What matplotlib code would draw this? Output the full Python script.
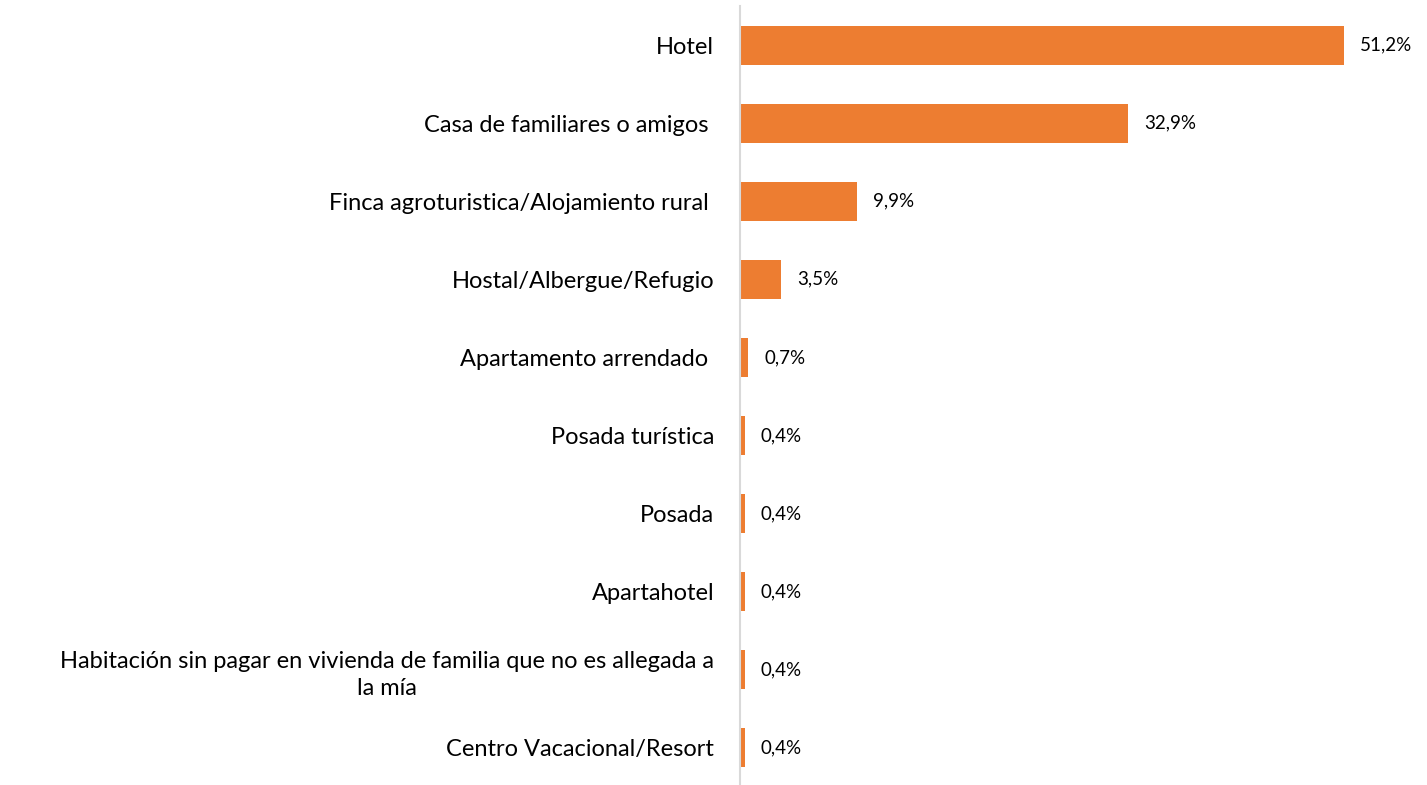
import matplotlib
matplotlib.use("Agg")
import matplotlib.pyplot as plt

categorias = [
    "Hotel",
    "Casa de familiares o amigos ",
    "Finca agroturistica/Alojamiento rural ",
    "Hostal/Albergue/Refugio",
    "Apartamento arrendado ",
    "Posada turística",
    "Posada",
    "Apartahotel",
    "Habitación sin pagar en vivienda de familia que no es allegada a\nla mía",
    "Centro Vacacional/Resort",
]
valores = [51.2, 32.9, 9.9, 3.5, 0.7, 0.4, 0.4, 0.4, 0.4, 0.4]
etiquetas = ["51,2%", "32,9%", "9,9%", "3,5%", "0,7%", "0,4%", "0,4%", "0,4%", "0,4%", "0,4%"]

plt.rcParams['font.family'] = ['Lato', 'DejaVu Sans']

W, H = 1427, 785
fig = plt.figure(figsize=(W / 100, H / 100), dpi=100)
# axes spans 6px from the top down to just below the bottom edge
ax = fig.add_axes([740 / W, -2 / H, (1400 - 740) / W, 781 / H])

pos = list(range(len(categorias)))
ax.barh(pos, valores, height=0.5, color="#ED7D31")
ax.set_xlim(0, (1400 - 740) / 11.8)
ax.set_ylim(len(categorias) - 0.5, -0.5)

for y, v, t in zip(pos, valores, etiquetas):
    ax.annotate(t, (v, y), xytext=(16, 0), textcoords="offset pixels",
                ha="left", va="center", fontsize=13.5, color="#000000")

ax.set_yticks(pos)
ax.set_yticklabels(categorias, fontsize=17, multialignment="center", linespacing=1.35)
ax.tick_params(axis="y", length=0, pad=18.5)
ax.set_xticks([])
for s in ["top", "right", "bottom"]:
    ax.spines[s].set_visible(False)
ax.spines["left"].set_color("#D9D9D9")
ax.spines["left"].set_linewidth(1.5)

fig.savefig("out.png", dpi=100)
